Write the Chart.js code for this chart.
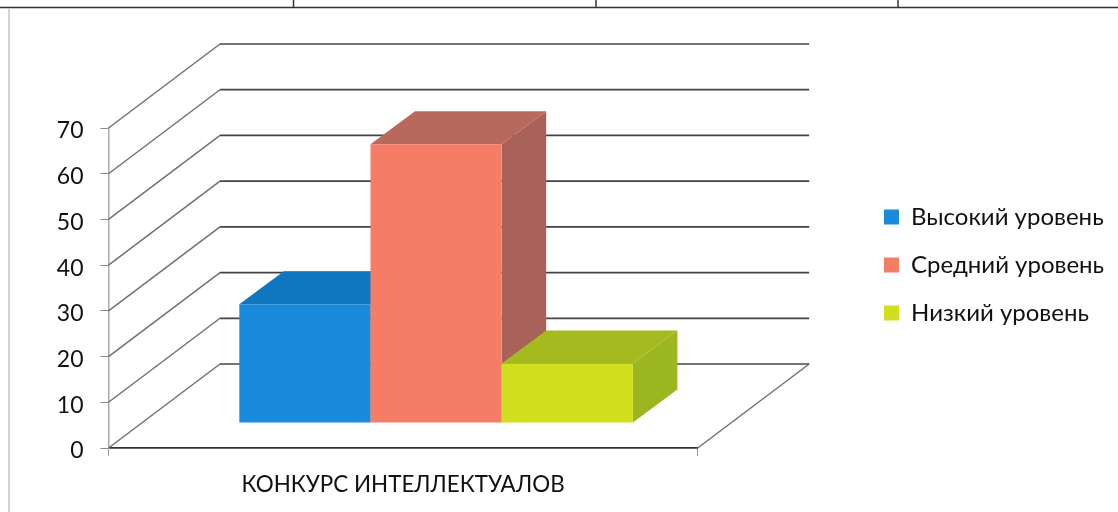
<!DOCTYPE html>
<html><head><meta charset="utf-8">
<style>html,body{margin:0;padding:0;background:#fff;overflow:hidden}#w{width:1118px;height:512px;position:relative}</style>
<script src="https://cdn.jsdelivr.net/npm/chart.js@4"></script>
</head><body><div id="w"><canvas id="c"></canvas></div>
<script>
const categories = ["КОНКУРС ИНТЕЛЛЕКТУАЛОВ"];
const seriesNames = ["Высокий уровень", "Средний уровень", "Низкий уровень"];
const highValues = [26];
const midValues = [61];
const lowValues = [13];
const yTicks = [0, 10, 20, 30, 40, 50, 60, 70];

const frontColors = ["#1a8bdb", "#f57d66", "#d0e01e"];
const topColors = ["#0f76bf", "#b9685c", "#a5ba1f"];
const sideColors = ["#0f6aac", "#a9625a", "#9bb620"];
const FONT = "Lato, 'Open Sans', sans-serif";
const WALL = {dx: 111.5, dy: -84};
const BAR_SHIFT = {dx: 33, dy: -25};
const BAR_DEPTH = {dx: 44.5, dy: -33};

function poly(ctx, pts, fill) {
  ctx.beginPath();
  pts.forEach((p, i) => i ? ctx.lineTo(p[0], p[1]) : ctx.moveTo(p[0], p[1]));
  ctx.closePath();
  ctx.fillStyle = fill;
  ctx.fill();
}
function seg(ctx, pts, color, w) {
  ctx.beginPath();
  pts.forEach((p, i) => i ? ctx.lineTo(p[0], p[1]) : ctx.moveTo(p[0], p[1]));
  ctx.strokeStyle = color;
  ctx.lineWidth = w;
  ctx.stroke();
}
const threeD = {
  id: "threeD",
  afterLayout(chart) {
    const lg = chart.legend;
    const h = lg.bottom - lg.top;
    lg.left = 860;
    lg.right = 1118;
    lg.width = 258;
    lg.top = 265 - h / 2;
    lg.bottom = lg.top + h;
  },
  beforeDraw(chart) {
    const ctx = chart.ctx;
    seg(ctx, [[0, 7.5], [1118, 7.5]], "#333", 1.5);
    [293.5, 596, 898].forEach(x => seg(ctx, [[x, 0], [x, 7]], "#333", 1.5));
    seg(ctx, [[9, 9], [9, 512]], "#c4c4c4", 1.5);
  },
  beforeDatasetsDraw(chart) {
    const ctx = chart.ctx, a = chart.chartArea, y = chart.scales.y;
    y.ticks.forEach(t => {
      const p = y.getPixelForValue(t.value);
      seg(ctx, [[a.left, p], [a.left + WALL.dx, p + WALL.dy]], "#6e6e6e", 1.4);
      seg(ctx, [[a.left + WALL.dx, p + WALL.dy], [a.right + WALL.dx, p + WALL.dy]], "#444", 1.7);
    });
    const b = y.getPixelForValue(0);
    seg(ctx, [[a.right, b], [a.right + WALL.dx, b + WALL.dy]], "#6e6e6e", 1.4);
  },
  beforeDatasetDraw() { return false; },
  afterDatasetsDraw(chart) {
    const ctx = chart.ctx;
    chart.data.datasets.forEach((ds, i) => {
      chart.getDatasetMeta(i).data.forEach(el => {
        const p = el.getProps(["x", "y", "base", "width"], true);
        const l = p.x - p.width / 2 + BAR_SHIFT.dx, r = p.x + p.width / 2 + BAR_SHIFT.dx;
        const t = p.y + BAR_SHIFT.dy, b = p.base + BAR_SHIFT.dy;
        const dx = BAR_DEPTH.dx, dy = BAR_DEPTH.dy;
        poly(ctx, [[r, t], [r + dx, t + dy], [r + dx, b + dy], [r, b]], sideColors[i]);
        poly(ctx, [[l, t], [l + dx, t + dy], [r + dx, t + dy], [r, t]], topColors[i]);
        poly(ctx, [[l, t], [r, t], [r, b], [l, b]], frontColors[i]);
      });
    });
  }
};
new Chart(document.getElementById("c"), {
  type: "bar",
  plugins: [threeD],
  data: {
    labels: categories,
    datasets: [
      {label: seriesNames[0], data: highValues, backgroundColor: frontColors[0]},
      {label: seriesNames[1], data: midValues, backgroundColor: frontColors[1]},
      {label: seriesNames[2], data: lowValues, backgroundColor: frontColors[2]}
    ]
  },
  options: {
    responsive: true,
    maintainAspectRatio: false,
    animation: false,
    layout: {padding: {top: 128, left: 0, right: 0, bottom: 0}},
    datasets: {bar: {categoryPercentage: 0.668, barPercentage: 1}},
    plugins: {
      tooltip: {enabled: false},
      legend: {
        position: "right",
        align: "center",
        labels: {boxWidth: 15, boxHeight: 15, padding: 24, color: "#111", font: {family: FONT, size: 24}}
      }
    },
    scales: {
      x: {
        afterFit(s) { s.height = 64; },
        grid: {offset: true, drawOnChartArea: false, tickLength: 8, color: "#999"},
        border: {color: "#333", width: 1.7},
        ticks: {color: "#111", padding: 15, font: {family: FONT, size: 22.4}}
      },
      y: {
        min: 0, max: 70,
        afterFit(s) { s.width = 108.5; },
        afterBuildTicks(s) { s.ticks = yTicks.map(v => ({value: v})); },
        grid: {drawOnChartArea: false, tickLength: 8, color: "#888"},
        border: {color: "#aaa", width: 1.5},
        ticks: {color: "#111", padding: 17, labelOffset: 3, font: {family: FONT, size: 23}}
      },
      spacer: {
        position: "right",
        display: true,
        afterFit(s) { s.width = 234; },
        grid: {display: false},
        border: {display: false},
        ticks: {display: false}
      }
    }
  }
});
</script></body></html>
